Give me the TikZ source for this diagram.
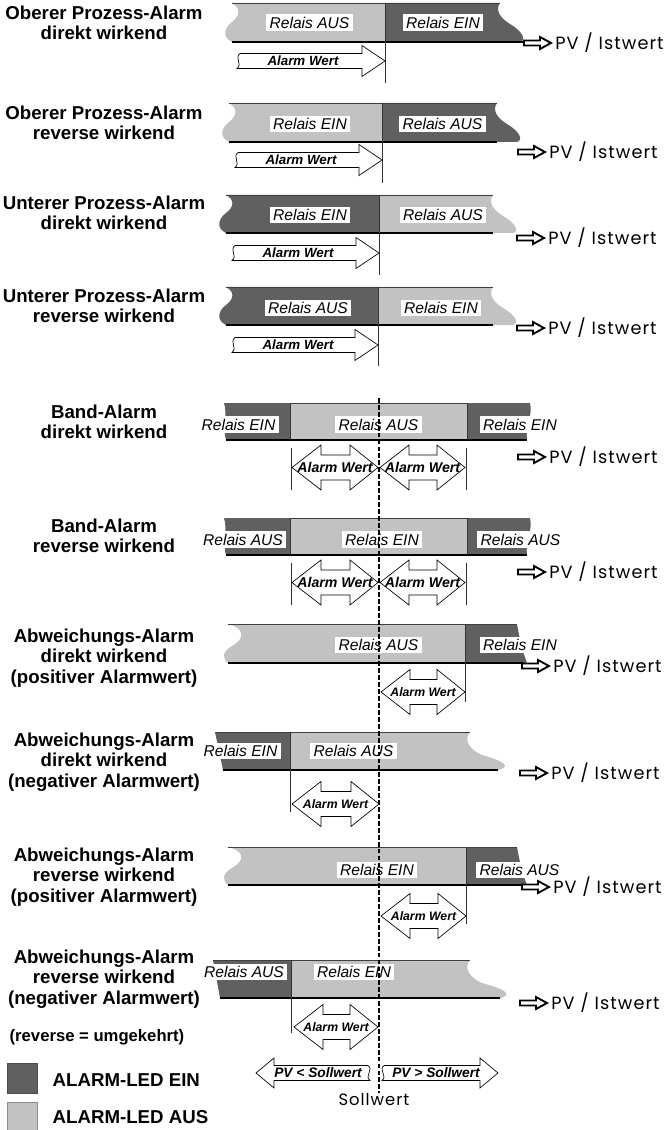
\documentclass[tikz,border=0pt]{standalone}
\usepackage{fontspec}
\setmainfont{Liberation Sans}
\newfontfamily\pvfont[LetterSpace=6]{Poppins}
\definecolor{darkg}{RGB}{96,96,96}
\definecolor{lightg}{RGB}{194,194,194}
\tikzset{
  topl/.style={draw=black!75,line width=0.5pt},
  botl/.style={draw=black,line width=0.8pt},
  divl/.style={draw=black!80,line width=0.5pt},
  relais/.style={fill=white,font=\fontsize{11.7}{13}\selectfont\itshape,inner xsep=2.6pt,inner ysep=2pt},
  lbl/.style={font=\fontsize{14}{15.4}\selectfont\bfseries,align=center},
  arrshape/.style={draw=black,line width=0.5pt,fill=white},
  aw/.style={font=\fontsize{10}{12}\selectfont\bfseries\itshape,inner sep=0pt},
  awb/.style={font=\fontsize{10.6}{12}\selectfont\bfseries\itshape,inner sep=0pt},
  awd/.style={font=\fontsize{9.2}{11}\selectfont\bfseries\itshape,inner sep=0pt},
  pvarrow/.style={draw=black,line width=1.4pt,fill=white,line join=miter},
  pvt/.style={font=\pvfont\fontsize{13.3}{14}\selectfont,inner sep=0pt},
  dashl/.style={draw=black,line width=1.1pt,dash pattern=on 3.6pt off 1.6pt},
  vline/.style={draw=black!80,line width=0.5pt},
}
% process alarm bar: xl xr t b div leftcol rightcol xend
\newcommand{\Pbar}[8]{%
  \begin{scope}
    \clip (#1,#3) -- (#2,#3) .. controls (#2-5,#3+7) and (#2,#3+15) .. (#2+10,#3+21) .. controls (#2+22,#3+28) and (#2+27,#4-2) .. (#2+20,#4) -- (#1,#4) .. controls (#1-10,#4-5) and (#1-8,#4-14) .. (#1,#4-20) .. controls (#1+8,#4-26) and (#1+9,#3+5) .. (#1,#3) -- cycle;
    \fill[#6] (#1-20,#3-2) rectangle (#5,#4+2);
    \fill[#7] (#5,#3-2) rectangle (#2+40,#4+2);
  \end{scope}
  \draw[topl] (#1,#3) -- (#2,#3);
  \draw[botl] (#1,#4) -- (#8,#4);
}
% PV arrow: x0 y name
\newcommand{\PVarrow}[3]{%
  \draw[pvarrow] (#1,#2-2.5) -- (#1+16,#2-2.5) -- (#1+16,#2-6) -- (#1+27,#2) -- (#1+16,#2+6) -- (#1+16,#2+2.5) -- (#1,#2+2.5) -- cycle;
  \node[pvt,anchor=west] (#3) at (#1+31,#2) {PV / Istwert};
}
% single alarm arrow: tail tip yc name
\newcommand{\AWarrow}[4]{%
  \draw[arrshape] (#1+3,#3-7.5) -- (#2-23,#3-7.5) -- (#2-23,#3-15.5) -- (#2,#3) -- (#2-23,#3+15.5) -- (#2-23,#3+7.5) -- (#1,#3+7.5) .. controls (#1+6,#3+3) and (#1-3,#3-3) .. cycle;
  \node[aw] (#4) at (#1+66,#3) {Alarm Wert};
}
% double alarm arrow: x1 x2 yc style name
\newcommand{\AWdouble}[5]{%
  \draw[arrshape] (#1,#3) -- (#1+29,#3-22.5) -- (#1+29,#3-12.5) -- (#2-28,#3-12.5) -- (#2-28,#3-22.5) -- (#2,#3) -- (#2-28,#3+22.5) -- (#2-28,#3+12.5) -- (#1+29,#3+12.5) -- (#1+29,#3+22.5) -- cycle;
  \node[#4] (#5) at ({(#1+#2)/2},#3) {Alarm Wert};
}
\begin{document}
\begin{tikzpicture}[x=0.75pt,y=-0.75pt]
\useasboundingbox (0,0) rectangle (666,1130);

% ---------- labels ----------
\node[lbl] (l1) at (104,23) {Oberer Prozess-Alarm\\direkt wirkend};
\node[lbl] (l2) at (104,123) {Oberer Prozess-Alarm\\reverse wirkend};
\node[lbl] (l3) at (104,213) {Unterer Prozess-Alarm\\direkt wirkend};
\node[lbl] (l4) at (104,306) {Unterer Prozess-Alarm\\reverse wirkend};
\node[lbl] (l5) at (104,422) {Band-Alarm\\direkt wirkend};
\node[lbl] (l6) at (104,536) {Band-Alarm\\reverse wirkend};
\node[lbl] (l7) at (104,658) {Abweichungs-Alarm\\direkt wirkend\\(positiver Alarmwert)};
\node[lbl] (l8) at (104,762) {Abweichungs-Alarm\\direkt wirkend\\(negativer Alarmwert)};
\node[lbl] (l9) at (104,877) {Abweichungs-Alarm\\reverse wirkend\\(positiver Alarmwert)};
\node[lbl] (l10) at (104,979) {Abweichungs-Alarm\\reverse wirkend\\(negativer Alarmwert)};

% ---------- row 1 ----------
\Pbar{232}{500}{3}{42}{385}{lightg}{darkg}{523}
\draw[vline] (385,3) -- (385,83);
\node[relais] (r1a) at (309.5,22.5) {Relais AUS};
\node[relais] (r1b) at (443,22.5) {Relais EIN};
\AWarrow{237}{385}{61}{a1}
\PVarrow{524}{43}{pv1}

% ---------- row 2 ----------
\Pbar{229}{497}{103}{142}{382}{lightg}{darkg}{497}
\draw[vline] (382,103) -- (382,183);
\node[relais] (r2a) at (310,124) {Relais EIN};
\node[relais] (r2b) at (442.5,124) {Relais AUS};
\AWarrow{235}{382}{160}{a2}
\PVarrow{518}{152}{pv2}

% ---------- row 3 ----------
\Pbar{226}{493}{195}{233}{379}{darkg}{lightg}{493}
\draw[vline] (379,195) -- (379,275);
\node[relais] (r3a) at (310,215) {Relais EIN};
\node[relais] (r3b) at (443,215) {Relais AUS};
\AWarrow{232}{379}{253}{a3}
\PVarrow{517}{238}{pv3}

% ---------- row 4 ----------
\Pbar{226}{493}{287}{325}{378}{darkg}{lightg}{493}
\draw[vline] (378,287) -- (378,366);
\node[relais] (r4a) at (308,308) {Relais AUS};
\node[relais] (r4b) at (441,308) {Relais EIN};
\AWarrow{232}{378}{345}{a4}
\PVarrow{517}{328}{pv4}

% ---------- row 5 (band direkt) ----------
\begin{scope}
  \clip (224,403) -- (530,403) .. controls (533,415) and (525,428) .. (527,440) -- (226,440) .. controls (222,428) and (228,415) .. (224,403) -- cycle;
  \fill[darkg] (200,400) rectangle (290,445);
  \fill[lightg] (290,400) rectangle (467,445);
  \fill[darkg] (467,400) rectangle (540,445);
\end{scope}
\draw[topl] (290,403) -- (467,403);
\draw[botl] (226,440) -- (527,440);
\draw[divl] (290,403) -- (290,440);
\draw[divl] (467,403) -- (467,440);
\node[relais] (r5a) at (238.5,424.5) {Relais EIN};
\node[relais] (r5b) at (378.5,424.5) {Relais AUS};
\node[relais] (r5c) at (520,424.5) {Relais EIN};
\draw[vline] (291,448) -- (291,490);
\draw[vline] (466,448) -- (466,490);
\AWdouble{292}{378}{467.5}{awb}{a5a}
\AWdouble{380}{465}{467.5}{awb}{a5b}
\PVarrow{518}{457}{pv5}

% ---------- row 6 (band reverse) ----------
\begin{scope}
  \clip (224,518) -- (530,518) .. controls (533,530) and (525,543) .. (527,555) -- (226,555) .. controls (222,543) and (228,530) .. (224,518) -- cycle;
  \fill[darkg] (200,515) rectangle (290,560);
  \fill[lightg] (290,515) rectangle (467,560);
  \fill[darkg] (467,515) rectangle (540,560);
\end{scope}
\draw[topl] (290,518) -- (467,518);
\draw[botl] (226,555) -- (527,555);
\draw[divl] (290,518) -- (290,555);
\draw[divl] (467,518) -- (467,555);
\node[relais] (r6a) at (243,539.5) {Relais AUS};
\node[relais] (r6b) at (382,539.5) {Relais EIN};
\node[relais] (r6c) at (520.5,539.5) {Relais AUS};
\draw[vline] (291,563) -- (291,605);
\draw[vline] (466,563) -- (466,605);
\AWdouble{292}{378}{582.5}{awb}{a6a}
\AWdouble{380}{465}{582.5}{awb}{a6b}
\PVarrow{518}{572}{pv6}

% ---------- row 7 ----------
\begin{scope}
  \clip (228,624) -- (517,624) .. controls (520,640) and (522,650) .. (527,663) -- (228,663) .. controls (222,658) and (222,652) .. (232,646) .. controls (246,638) and (244,628) .. (228,624) -- cycle;
  \fill[lightg] (200,620) rectangle (465,668);
  \fill[darkg] (465,620) rectangle (540,668);
\end{scope}
\draw[topl] (228,624) -- (517,624);
\draw[botl] (228,663) -- (523,663);
\draw[vline] (465,624) -- (465,702);
\node[relais] (r7a) at (378.5,645) {Relais AUS};
\node[relais] (r7b) at (520,645) {Relais EIN};
\AWdouble{381}{465}{692}{awd}{a7}
\PVarrow{522}{666}{pv7}

% ---------- row 8 ----------
\begin{scope}
  \clip (215,732) -- (470,732) .. controls (463,740) and (470,750) .. (482,755) .. controls (500,760) and (514,766) .. (498,770) -- (223,770) -- cycle;
  \fill[darkg] (200,728) rectangle (290,775);
  \fill[lightg] (290,728) rectangle (520,775);
\end{scope}
\draw[topl] (215,732) -- (470,732);
\draw[botl] (223,770) -- (498,770);
\draw[vline] (290,732) -- (290,812);
\node[relais] (r8a) at (240.5,751) {Relais EIN};
\node[relais] (r8b) at (353.5,751) {Relais AUS};
\AWdouble{292}{379}{804}{awd}{a8}
\PVarrow{520}{773}{pv8}

% ---------- row 9 ----------
\begin{scope}
  \clip (228,847) -- (517,847) .. controls (520,863) and (522,873) .. (527,885) -- (228,885) .. controls (222,880) and (222,874) .. (232,868) .. controls (246,860) and (244,851) .. (228,847) -- cycle;
  \fill[lightg] (200,843) rectangle (466,890);
  \fill[darkg] (466,843) rectangle (540,890);
\end{scope}
\draw[topl] (228,847) -- (517,847);
\draw[botl] (228,885) -- (523,885);
\draw[vline] (466,847) -- (466,924);
\node[relais] (r9a) at (377,870) {Relais EIN};
\node[relais] (r9b) at (519.5,870) {Relais AUS};
\AWdouble{381}{466}{916}{awd}{a9}
\PVarrow{522}{887}{pv9}

% ---------- row 10 ----------
\begin{scope}
  \clip (213,960) -- (470,960) .. controls (463,968) and (470,978) .. (482,983) .. controls (500,988) and (516,994) .. (500,998) -- (220,998) -- cycle;
  \fill[darkg] (200,956) rectangle (291,1003);
  \fill[lightg] (291,956) rectangle (520,1003);
\end{scope}
\draw[topl] (213,960) -- (470,960);
\draw[botl] (220,998) -- (500,998);
\draw[vline] (291,960) -- (291,1033);
\node[relais] (r10a) at (244,972) {Relais AUS};
\node[relais] (r10b) at (354,972) {Relais EIN};
\AWdouble{294}{378}{1027}{awd}{a10}
\PVarrow{520}{1003}{pv10}

% ---------- bottom PV arrows ----------
\draw[arrshape] (256,1073) -- (274,1058) -- (274,1065.5) -- (368,1065.5) .. controls (374,1070) and (364,1076) .. (370,1080.5) -- (274,1080.5) -- (274,1088) -- cycle;
\node[aw,font=\fontsize{10.3}{12}\selectfont\bfseries\itshape] (pvl) at (318,1073) {PV < Sollwert};
\draw[arrshape] (498,1073) -- (480,1058) -- (480,1065.5) -- (384,1065.5) .. controls (378,1070) and (388,1076) .. (382,1080.5) -- (480,1080.5) -- (480,1088) -- cycle;
\node[aw,font=\fontsize{10.3}{12}\selectfont\bfseries\itshape] (pvr) at (436,1073) {PV > Sollwert};
\node[pvt,font=\pvfont\fontsize{12.3}{14}\selectfont] (soll) at (374,1099) {Sollwert};

% ---------- dashed setpoint line ----------
\coordinate (dtop) at (379,398);
\draw[dashl] (dtop) -- (379,1093);

% ---------- legend ----------
\node[font=\fontsize{12.5}{14}\selectfont\bfseries] (rev) at (97,1037) {(reverse = umgekehrt)};
\node[draw=black!70,fill=darkg,line width=0.5pt,minimum size=22.5pt,inner sep=0pt] (sq1) at (22,1078) {};
\node[font=\fontsize{14}{16}\selectfont\bfseries,anchor=west] (le1) at (48,1080) {ALARM-LED EIN};
\node[draw=black!45,fill=lightg,line width=0.5pt,minimum size=22.5pt,inner sep=0pt] (sq2) at (22,1117) {};
\node[font=\fontsize{14}{16}\selectfont\bfseries,anchor=west] (le2) at (48,1117) {ALARM-LED AUS};
\end{tikzpicture}
\end{document}
